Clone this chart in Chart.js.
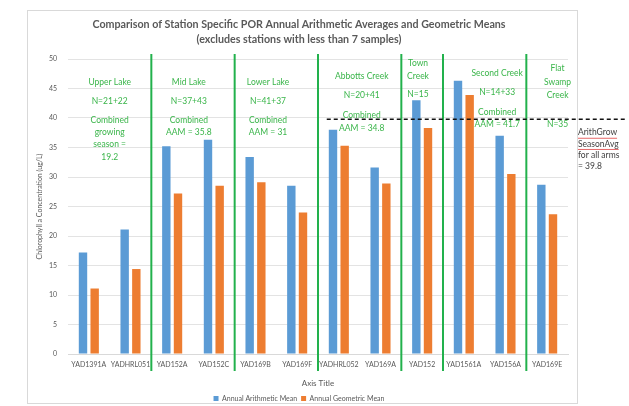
<!DOCTYPE html>
<html>
<head>
<meta charset="utf-8">
<script src="https://cdn.jsdelivr.net/npm/chart.js@4.4.1/dist/chart.umd.min.js"></script>
<style>
  html, body { margin: 0; padding: 0; background: #fff; }
  #wrap { width: 629px; height: 406px; }
</style>
</head>
<body>
<div id="wrap"><canvas id="myChart" width="629" height="406"></canvas></div>
<script>
// station codes along the x axis
var stations = ['YAD1391A', 'YADHRL051', 'YAD152A', 'YAD152C', 'YAD169B', 'YAD169F',
    'YADHRL052', 'YAD169A', 'YAD152', 'YAD1561A', 'YAD156A', 'YAD169E'];
var arithMean = [17.2, 21.1, 35.2, 36.3, 33.4, 28.5, 38.0, 31.6, 43.0, 46.3, 37.0, 28.7];
var geoMean = [11.1, 14.4, 27.2, 28.5, 29.1, 24.0, 35.3, 28.9, 38.3, 43.9, 30.5, 23.7];
var yTicks = [0, 5, 10, 15, 20, 25, 30, 35, 40, 45, 50];

// green separators sit between these category indexes (after index n)
var dividers = [1, 3, 5, 7, 8, 10];

// group notes: x in category units, each line with its y in axis units
var groupNotes = [
    { x: 0.5, lines: [['Upper Lake', 46.1], ['N=21+22', 42.9], ['Combined', 39.6], ['growing', 37.5], ['season =', 35.5], ['19.2', 33.4]] },
    { x: 2.4, lines: [['Mid Lake', 46.1], ['N=37+43', 42.9], ['Combined', 39.6], ['AAM = 35.8', 37.5]] },
    { x: 4.3, lines: [['Lower Lake', 46.1], ['N=41+37', 42.9], ['Combined', 39.6], ['AAM = 31', 37.5]] },
    { x: 6.55, lines: [['Abbotts Creek', 47.0], ['N=20+41', 43.8], ['Combined', 40.4], ['AAM = 34.8', 38.2]] },
    { x: 7.9, lines: [['Town', 49.2], ['Creek', 47.1], ['N=15', 44.0]] },
    { x: 9.8, lines: [['Second Creek', 47.6], ['N=14+33', 44.4], ['Combined', 41.0], ['AAM = 41.7', 39.0]] },
    { x: 11.25, lines: [['Flat', 48.5], ['Swamp', 46.1], ['Creek', 43.9], ['N=35', 38.9]] }
];

var avgAll = 39.8;
var avgNote = [['ArithGrow', 37.5, true], ['SeasonAvg', 35.6, true], ['for all arms', 33.6, false], ['= 39.8', 31.8, false]];

var GREEN = '#22b14c';
var FONT = 'Lato, "Open Sans", sans-serif';

var extras = {
    id: 'extras',
    beforeDraw: function(chart) {
        var c = chart.ctx;
        c.save();
        c.strokeStyle = '#d9d9d9';
        c.lineWidth = 1;
        c.strokeRect(27.5, 10.5, 550, 393);
        c.restore();
    },
    afterDraw: function(chart) {
        var c = chart.ctx;
        var xs = chart.scales.x, ys = chart.scales.y, area = chart.chartArea;
        c.save();

        // group separators
        c.strokeStyle = GREEN;
        c.lineWidth = 2;
        dividers.forEach(function(d) {
            var px = xs.getPixelForValue(d + 0.5);
            c.beginPath();
            c.moveTo(px, area.top - 5);
            c.lineTo(px, area.bottom + 17);
            c.stroke();
        });

        // group notes
        c.fillStyle = '#3ab54a';
        c.font = '8.5px ' + FONT;
        c.textAlign = 'center';
        c.textBaseline = 'middle';
        groupNotes.forEach(function(g) {
            var px = xs.getPixelForValue(g.x);
            g.lines.forEach(function(l) {
                c.fillText(l[0], px, ys.getPixelForValue(l[1]));
            });
        });

        // dashed overall average
        var py = ys.getPixelForValue(avgAll);
        c.strokeStyle = '#111';
        c.lineWidth = 1.5;
        c.setLineDash([4, 3]);
        c.beginPath();
        c.moveTo(xs.getPixelForValue(5.71), py);
        c.lineTo(626, py);
        c.stroke();
        c.setLineDash([]);

        // note at right
        c.textAlign = 'left';
        c.fillStyle = '#404040';
        var nx = area.right + 10;
        avgNote.forEach(function(n) {
            var ny = ys.getPixelForValue(n[1]);
            c.fillText(n[0], nx, ny);
            if (n[2]) {
                var w = c.measureText(n[0]).width;
                c.strokeStyle = '#e04040';
                c.lineWidth = 0.8;
                c.beginPath();
                c.moveTo(nx, ny + 5.5);
                c.lineTo(nx + w, ny + 5.5);
                c.stroke();
            }
        });
        c.restore();
    }
};

var ctx = document.getElementById('myChart').getContext('2d');
new Chart(ctx, {
    type: 'bar',
    data: {
        labels: stations,
        datasets: [{
            label: 'Annual Arithmetic Mean',
            data: arithMean,
            backgroundColor: '#5b9bd5',
            barPercentage: 0.72,
            categoryPercentage: 0.56
        }, {
            label: 'Annual Geometric Mean',
            data: geoMean,
            backgroundColor: '#ed7d31',
            barPercentage: 0.72,
            categoryPercentage: 0.56
        }]
    },
    options: {
        responsive: false,
        animation: false,
        layout: { padding: { left: 30, right: 61, top: 0, bottom: -6 } },
        plugins: {
            title: {
                display: true,
                text: ['Comparison of Station Specific POR Annual Arithmetic Averages and Geometric Means',
                    '(excludes stations with less than 7 samples)'],
                color: '#595959',
                font: { family: FONT, size: 10.7, weight: 'bold', lineHeight: 15 / 10.7 },
                padding: { top: 17.5, bottom: 11.5 }
            },
            legend: {
                position: 'bottom',
                labels: {
                    color: '#595959',
                    font: { family: FONT, size: 7 },
                    boxWidth: 5,
                    boxHeight: 5,
                    padding: 4
                }
            },
            tooltip: { enabled: false }
        },
        scales: {
            x: {
                grid: { display: false, drawTicks: false },
                border: { color: '#d9d9d9' },
                ticks: { color: '#595959', font: { family: FONT, size: 7 }, padding: 7, maxRotation: 0, autoSkip: false },
                title: { display: true, text: 'Axis Title', color: '#595959', font: { family: FONT, size: 8 }, padding: { top: 2, bottom: 3 } }
            },
            y: {
                min: 0,
                max: 50,
                afterBuildTicks: function(s) { s.ticks = yTicks.map(function(v) { return { value: v }; }); },
                afterFit: function(s) { s.width = 38; },
                grid: { color: '#e3e3e3', drawTicks: false },
                border: { display: false },
                ticks: { color: '#595959', font: { family: FONT, size: 7 }, padding: 11 },
                title: { display: true, text: 'Chlorophyll a Concentration (ug/L)', color: '#595959', font: { family: FONT, size: 7 }, padding: 6 }
            }
        }
    },
    plugins: [extras]
});
</script>
</body>
</html>
